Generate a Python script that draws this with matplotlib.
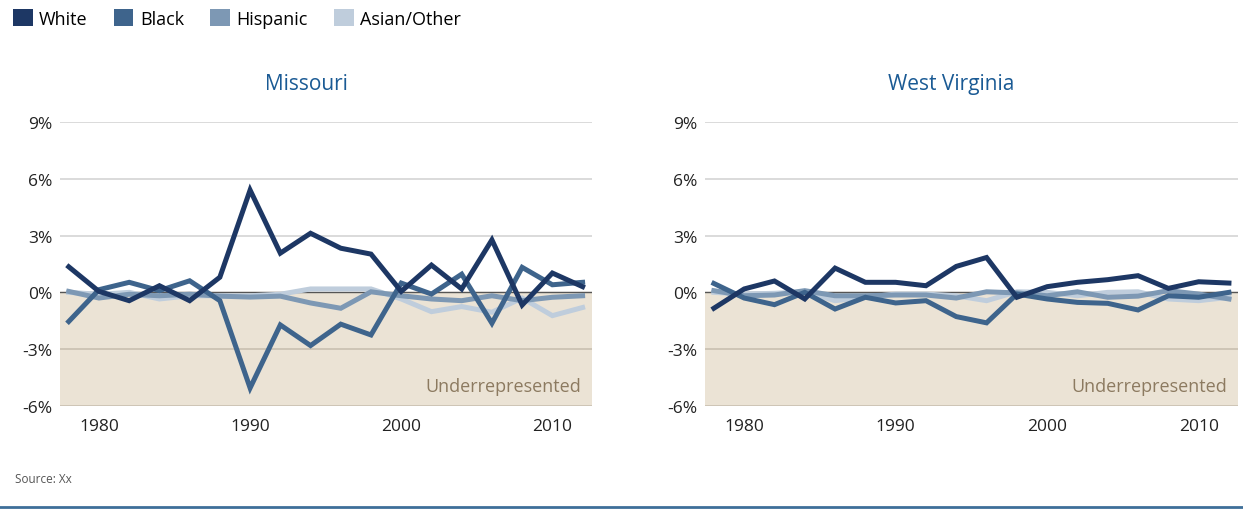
import matplotlib.pyplot as plt
from matplotlib.patches import Patch

plt.rcParams['font.family'] = ['Open Sans', 'DejaVu Sans']

years = list(range(1978, 2013, 2))

# Missouri
mo_white = [1.35, 0.05, -0.44, 0.35, -0.44, 0.8, 5.4, 2.07, 3.12, 2.33, 2.02, 0.05, 1.44, 0.18, 2.77, -0.67, 1.02, 0.3]
mo_black = [-1.54, 0.14, 0.53, 0.09, 0.61, -0.44, -5.05, -1.72, -2.81, -1.68, -2.25, 0.49, -0.09, 0.96, -1.63, 1.32, 0.4, 0.53]
mo_hisp = [0.05, -0.3, -0.1, -0.18, -0.1, -0.2, -0.25, -0.2, -0.56, -0.84, 0.03, -0.18, -0.35, -0.44, -0.18, -0.44, -0.26, -0.18]
mo_asian = [0.0, -0.1, 0.0, -0.35, -0.18, -0.18, -0.18, -0.1, 0.18, 0.18, 0.18, -0.35, -1.02, -0.75, -1.05, -0.3, -1.23, -0.8]

# West Virginia
wv_white = [-0.84, 0.18, 0.6, -0.35, 1.28, 0.53, 0.53, 0.35, 1.37, 1.84, -0.26, 0.3, 0.53, 0.67, 0.88, 0.21, 0.56, 0.49]
wv_black = [0.47, -0.3, -0.65, 0.0, -0.88, -0.26, -0.56, -0.44, -1.28, -1.61, -0.09, -0.35, -0.53, -0.58, -0.93, -0.18, -0.26, 0.0]
wv_hisp = [0.09, -0.18, -0.14, 0.09, -0.18, -0.18, -0.14, -0.14, -0.3, 0.03, -0.03, -0.18, 0.03, -0.26, -0.2, 0.09, -0.09, -0.35]
wv_asian = [0.0, -0.09, -0.05, 0.03, -0.44, -0.26, -0.09, -0.09, -0.18, -0.44, 0.03, 0.0, -0.18, 0.0, 0.03, -0.35, -0.44, -0.26]

labels = ['White', 'Black', 'Hispanic', 'Asian/Other']
colors = ['#1d3764', '#3e648c', '#7d98b4', '#bfcddc']

fig = plt.figure(figsize=(12.43, 5.10), dpi=100)

panels = [
    ('Missouri', [0.048, 0.202, 0.428, 0.557], [mo_white, mo_black, mo_hisp, mo_asian]),
    ('West Virginia', [0.567, 0.202, 0.429, 0.557], [wv_white, wv_black, wv_hisp, wv_asian]),
]

for title, rect, series in panels:
    ax = fig.add_axes(rect)
    ax.set_xlim(1977.4, 2012.6)
    ax.set_ylim(-6, 9)
    ax.axhspan(-6, 0, color='#ebe3d5', zorder=0)
    for y in [3, 6, 9]:
        ax.axhline(y, color='#d4d4d4', lw=1.2, zorder=1)
    ax.axhline(-3, color='#c9bfb0', lw=1.2, zorder=1)
    ax.axhline(-6, color='#c9bfb0', lw=1.2, zorder=1)
    ax.axhline(0, color='#555555', lw=1.0, zorder=1)
    # lightest first so the dark line sits on top
    for vals, c, z in zip(series[::-1], colors[::-1], [2, 3, 4, 5]):
        ax.plot(years, vals, color=c, lw=3.6, zorder=z, solid_joinstyle='miter')
    for s in ax.spines.values():
        s.set_visible(False)
    ax.set_yticks([-6, -3, 0, 3, 6, 9])
    ax.set_yticklabels(['-6%', '-3%', '0%', '3%', '6%', '9%'])
    ax.set_xticks([1980, 1990, 2000, 2010])
    ax.tick_params(length=0, labelsize=12.5, colors='#222222')
    ax.tick_params(axis='x', pad=9)
    ax.tick_params(axis='y', pad=5)
    ax.set_title(title, color='#1a5a94', fontsize=15, pad=24, x=0.463)
    ax.text(0.98, 0.07, 'Underrepresented', transform=ax.transAxes,
            ha='right', va='center', color='#8c7a60', fontsize=13)

handles = [Patch(facecolor=c, edgecolor='none') for c in colors]
fig.legend(handles, labels, loc='upper left', bbox_to_anchor=(0.0, 1.006), ncol=4,
           frameon=False, fontsize=13, handlelength=1.1, handleheight=1.15,
           handletextpad=0.35, columnspacing=1.45, borderaxespad=0.3)

fig.text(0.012, 0.052, 'Source: Xx', color='#555555', fontsize=8.5)
fig.add_artist(plt.Line2D([0, 1], [0.004, 0.004], color='#3e6f99', lw=2))

fig.savefig('out.png', dpi=100)
